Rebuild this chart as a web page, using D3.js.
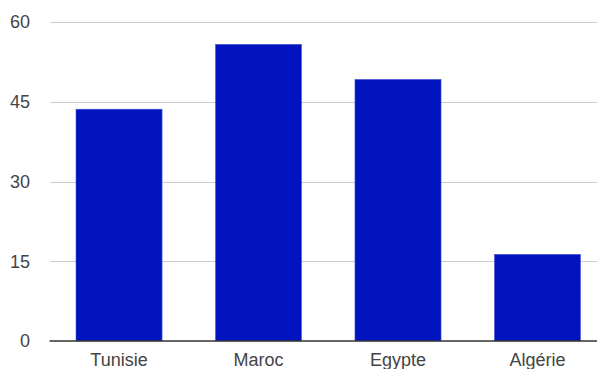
<!doctype html>
<html lang="fr">
  <head>
    <meta charset="utf-8">
    <title>Colonnes</title>
    <style>
    body { margin: 0; background: #fff; }
    .grid line { stroke: #cccccc; stroke-width: 1px; shape-rendering: crispEdges; }
    .axis text { font-family: "Liberation Sans", Arial, sans-serif; font-size: 18px; fill: #444; }
    </style>
    <script src="https://d3js.org/d3.v7.min.js"></script>
  </head>
  <body>
    <svg width="597" height="369"></svg>
    <script>
    // data
    var countries = ["Tunisie", "Maroc", "Egypte", "Algérie"];
    var values = [43.6, 55.8, 49.2, 16.3];
    var yTicks = [0, 15, 30, 45, 60];

    var svg = d3.select("svg"),
        width = +svg.attr("width"),
        height = +svg.attr("height");

    // plot area (note: "top" is reserved on window, so use a prefix)
    var plotLeft = 49.5, plotRight = 607, plotTop = 22, plotBottom = 341;

    var x = d3.scaleBand()
        .domain(countries)
        .range([plotLeft, plotRight])
        .paddingInner(0.383)
        .paddingOuter(0.19);

    var y = d3.scaleLinear()
        .domain([0, 60])
        .range([plotBottom, plotTop]);

    // gridlines
    svg.append("g")
        .attr("class", "grid")
        .selectAll("line")
        .data(yTicks.filter(function(d) { return d > 0; }))
        .enter().append("line")
        .attr("x1", plotLeft)
        .attr("x2", width)
        .attr("y1", function(d) { return Math.round(y(d)) + 0.5; })
        .attr("y2", function(d) { return Math.round(y(d)) + 0.5; });

    // bars
    svg.append("g")
        .selectAll("rect")
        .data(values)
        .enter().append("rect")
        .attr("x", function(d, i) { return x(countries[i]); })
        .attr("y", function(d) { return y(d); })
        .attr("width", x.bandwidth())
        .attr("height", function(d) { return y(0) - y(d); })
        .attr("fill", "#0013be")
        .attr("stroke", "#4a5ad4")
        .attr("stroke-width", 0.6);

    // baseline
    svg.append("line")
        .attr("x1", plotLeft)
        .attr("x2", width)
        .attr("y1", y(0))
        .attr("y2", y(0))
        .attr("stroke", "#333")
        .attr("stroke-width", 1.3);

    // y labels
    var yAxis = svg.append("g").attr("class", "axis");
    yAxis.selectAll("text")
        .data(yTicks)
        .enter().append("text")
        .attr("x", 30)
        .attr("y", function(d) { return y(d); })
        .attr("dy", "0.35em")
        .attr("text-anchor", "end")
        .text(function(d) { return d; });

    // x labels
    var xAxis = svg.append("g").attr("class", "axis");
    xAxis.selectAll("text")
        .data(countries)
        .enter().append("text")
        .attr("x", function(d) { return x(d) + x.bandwidth() / 2; })
        .attr("y", 366)
        .attr("text-anchor", "middle")
        .text(function(d) { return d; });
    </script>
  </body>
</html>
